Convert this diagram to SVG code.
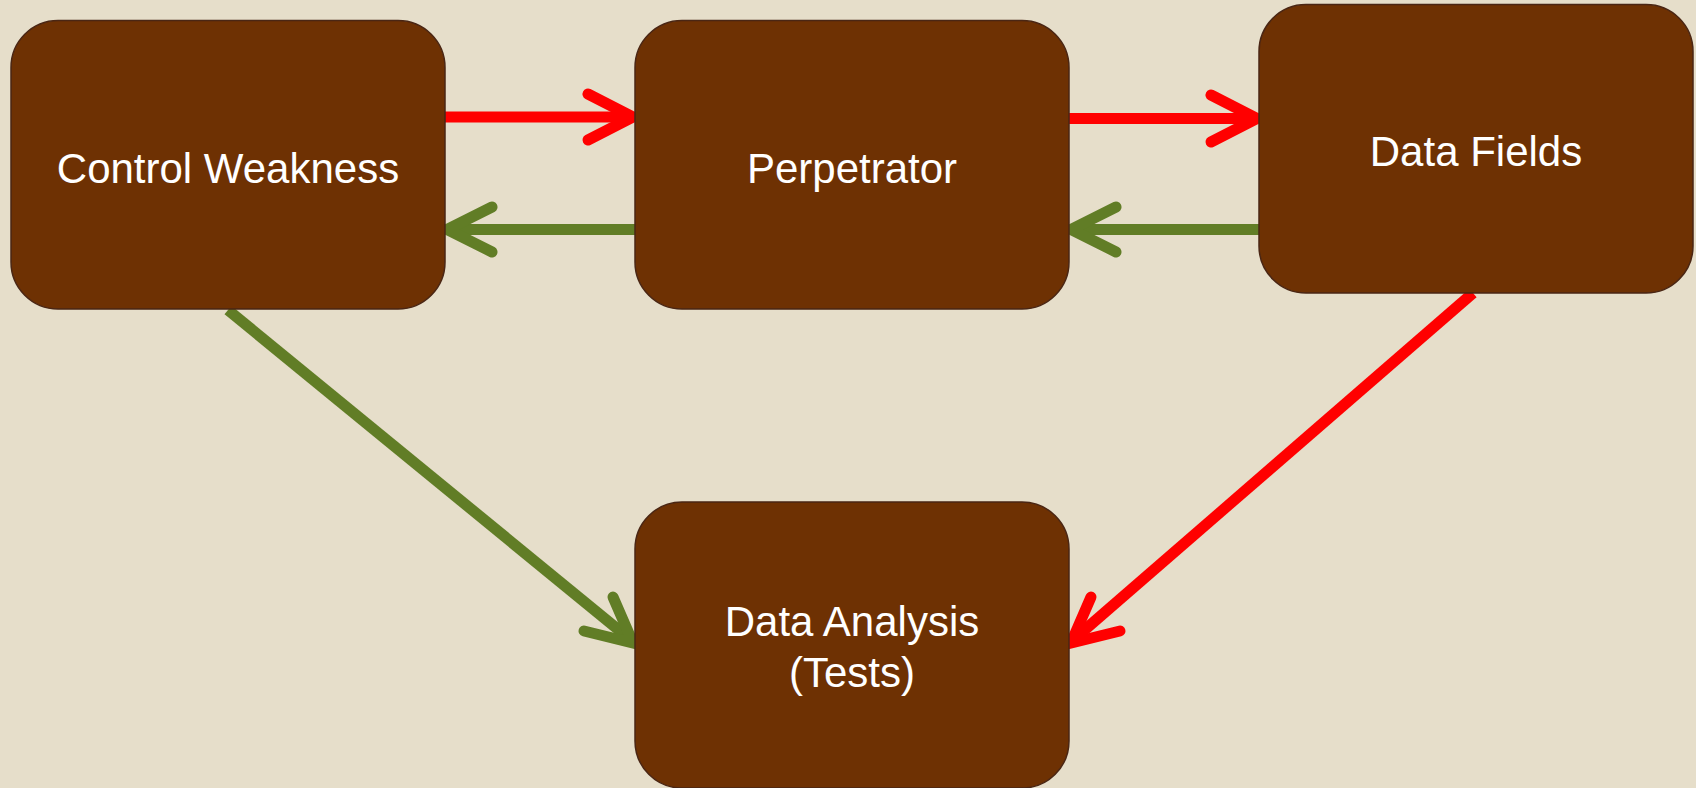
<svg xmlns="http://www.w3.org/2000/svg" width="1696" height="788" viewBox="0 0 1696 788">
<style>
.box{fill:#6E3103;stroke:#4A2614;stroke-width:1.5}
.lbl{font-family:"Liberation Sans",Arial,sans-serif;font-size:42px;fill:#FFFFFF;text-anchor:middle}
.shaft{fill:none;stroke-width:11;stroke-linecap:butt}
.head{fill:none;stroke-width:11;stroke-linecap:round;stroke-linejoin:miter;stroke-miterlimit:10}
.red{stroke:#FF0000}
.green{stroke:#617D26}
</style>
<rect width="1696" height="788" fill="#E6DECA"/>
<g id="connectors">
  <line class="shaft red" x1="445" y1="117" x2="630" y2="117"/>
  <polyline class="head red" points="588,94 633,117 588,140"/>
  <line class="shaft green" x1="635" y1="229.5" x2="450" y2="229.5"/>
  <polyline class="head green" points="492,207 447,229.5 492,252"/>
  <line class="shaft red" x1="1069" y1="118.5" x2="1254" y2="118.5"/>
  <polyline class="head red" points="1211,95 1257,118.5 1211,142"/>
  <line class="shaft green" x1="1259" y1="229.5" x2="1074" y2="229.5"/>
  <polyline class="head green" points="1116,207 1071,229.5 1116,252"/>
  <line class="shaft green" x1="228" y1="310" x2="631" y2="640"/>
  <polyline class="head green" points="584,631 633,643 613,597"/>
  <line class="shaft red" x1="1473" y1="293" x2="1073" y2="640"/>
  <polyline class="head red" points="1120,631 1071,643 1091,597"/>
</g>
<g id="control-weakness">
  <rect class="box" x="11" y="20.5" width="434" height="288.5" rx="47" ry="47"/>
  <text class="lbl" x="228" y="183">Control Weakness</text>
</g>
<g id="perpetrator">
  <rect class="box" x="635" y="20.5" width="434" height="288.5" rx="47" ry="47"/>
  <text class="lbl" x="852" y="183">Perpetrator</text>
</g>
<g id="data-fields">
  <rect class="box" x="1259" y="4.5" width="434" height="288.5" rx="47" ry="47"/>
  <text class="lbl" x="1476" y="166">Data Fields</text>
</g>
<g id="data-analysis">
  <rect class="box" x="635" y="502" width="434" height="286" rx="47" ry="47"/>
  <text class="lbl" x="852" y="636">Data Analysis</text>
  <text class="lbl" x="852" y="687">(Tests)</text>
</g>
</svg>
